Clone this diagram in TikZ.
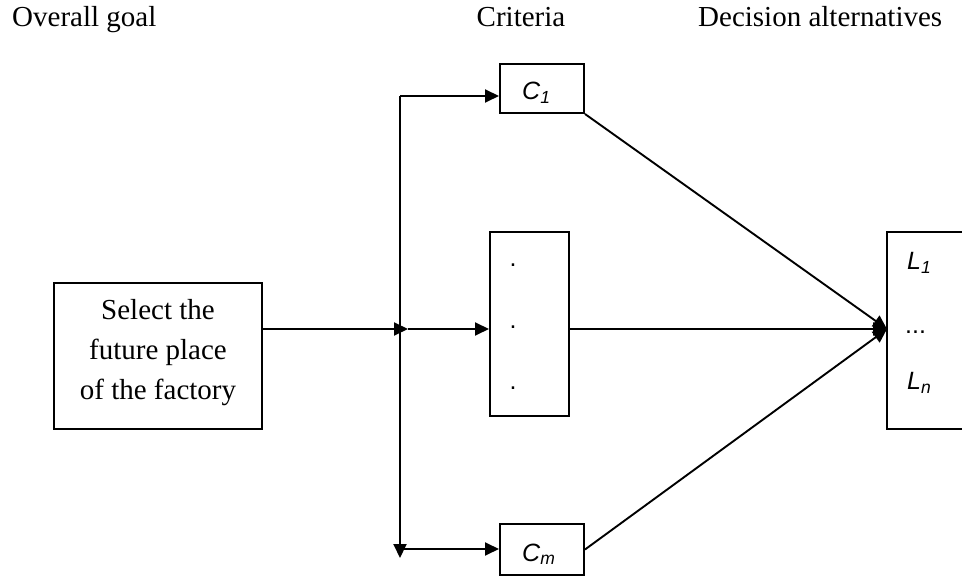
\documentclass[tikz,border=0pt]{standalone}
\usepackage{fontspec}
\setmainfont{Liberation Serif}
\setsansfont{Liberation Sans}
\usetikzlibrary{arrows.meta}
\begin{document}
\begin{tikzpicture}[x=1pt,y=-1pt,
  box/.style={draw,line width=2pt,inner sep=0pt},
  conn/.style={line width=1.9pt,-{Triangle[length=14pt,width=13pt]}},
  head/.style={font=\fontsize{29}{34}\selectfont,anchor=base west,inner sep=0pt},
  gtxt/.style={font=\fontsize{29}{34}\selectfont,anchor=base,inner sep=0pt},
  lab/.style={font=\fontsize{25}{28}\sffamily\itshape,anchor=base west,inner sep=0pt},
  dotl/.style={font=\fontsize{25}{28}\sffamily,anchor=base,inner sep=0pt}]
\useasboundingbox (0,0) rectangle (962,577);
\clip (0,0) rectangle (962,577);
% headers
\node[head] (h1) at (12,27) {Overall goal};
\node[head,anchor=base] (h2) at (521,27) {Criteria};
\node[head] (h3) at (698,27) {Decision alternatives};
% boxes
\node[box,minimum width=208pt,minimum height=146pt] (goal) at (158,356) {};
\node[gtxt] (g1) at (158,320) {Select the};
\node[gtxt] (g2) at (158,360) {future place};
\node[gtxt] (g3) at (158,400) {of the factory};
\node[box,minimum width=84pt,minimum height=49pt] (C1) at (542,88.5) {};
\node[lab] (c1t) at (522,100) {C\textsubscript{1}};
\node[box,minimum width=79pt,minimum height=184pt] (mid) at (529.5,324) {};
\node[dotl] (d1) at (513,267) {.};
\node[dotl] (d2) at (513,329) {.};
\node[dotl] (d3) at (513,390) {.};
\node[box,minimum width=84pt,minimum height=51pt] (Cm) at (542,549.5) {};
\node[lab] (cmt) at (522,561) {C\textsubscript{m}};
\node[box,minimum width=100pt,minimum height=197pt] (L) at (937,330.5) {};
\node[lab] (l1) at (907,270) {L\textsubscript{1}};
\node[dotl,anchor=base west] (ld) at (905,334) {...};
\node[lab] (ln) at (907,390) {L\textsubscript{n}};
% connectors
\coordinate (top) at (400,96);
\coordinate (bot) at (400,558);
\coordinate (j) at (408,329);
\coordinate (bj) at (400,549);
\coordinate (lin) at (887,329);
\draw[conn] (top) -- (bot);
\draw[conn] (top) -- (top -| C1.west);
\draw[conn] (bj) -- (bj -| Cm.west);
\draw[conn] (goal.east |- j) -- (j);
\draw[conn] (j) -- (j -| mid.west);
\draw[conn] (C1.south east) -- (lin);
\draw[conn] (mid.east |- lin) -- (lin);
\draw[conn] (Cm.east) -- (lin);
\end{tikzpicture}
\end{document}
